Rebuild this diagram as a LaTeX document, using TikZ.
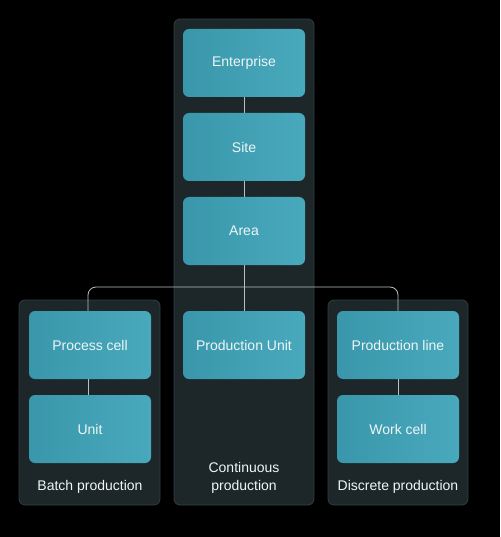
\documentclass[tikz,border=0pt]{standalone}
\usepackage{fontspec}
\setmainfont{Liberation Sans}
\definecolor{bg}{HTML}{000000}
\definecolor{panelfill}{HTML}{1D272A}
\definecolor{paneldraw}{HTML}{323E42}
\definecolor{boxL}{HTML}{3A97AB}
\definecolor{boxR}{HTML}{49A9BC}
\definecolor{txt}{HTML}{EEF6F8}
\definecolor{conn}{HTML}{B4C2C5}
\begin{document}
\begin{tikzpicture}[x=1pt,y=-1pt,
  panel/.style={draw=paneldraw,line width=0.8pt,fill=panelfill,rounded corners=6pt},
  levelbox/.style={rounded corners=6pt,left color=boxL,right color=boxR,draw=none,
    minimum width=122pt,minimum height=68pt,inner sep=0pt,text=txt,
    font=\fontsize{14}{16}\selectfont},
  plabel/.style={text=txt,font=\fontsize{14}{17.5}\selectfont,align=center},
  link/.style={draw=conn,line width=0.8pt}]
\fill[bg] (0,0) rectangle (500,537);
\useasboundingbox (0,0) rectangle (500,537);
% panels
\draw[panel] (174,19) rectangle (314,505);
\draw[panel] (19,300) rectangle (160,505);
\draw[panel] (328,300) rectangle (468,505);
% boxes
\node[levelbox] (ent) at (244,63) {Enterprise};
\node[levelbox] (site) at (244,147) {Site};
\node[levelbox] (area) at (244,231) {Area};
\node[levelbox] (pu) at (244,345) {Production Unit};
\node[levelbox] (pc) at (90,345) {Process cell};
\node[levelbox] (unit) at (90,429) {Unit};
\node[levelbox] (pl) at (398,345) {Production line};
\node[levelbox] (wc) at (398,429) {Work cell};
% labels
\node[plabel] (lb) at (90,487) {Batch production};
\node[plabel] (lc) at (244,478) {Continuous\\production};
\node[plabel] (ld) at (398,487) {Discrete production};
% connectors
\draw[link] (ent.south) -- (site.north);
\draw[link] (site.south) -- (area.north);
\draw[link] (area.south) -- (pu.north);
\draw[link,rounded corners=8pt] (pc.north -| 88,0) -- (88,287) -- (398,287) -- (pl.north);
\draw[link] (pc.south -| 88,0) -- (unit.north -| 88,0);
\draw[link] (pl.south) -- (wc.north);
\end{tikzpicture}
\end{document}
